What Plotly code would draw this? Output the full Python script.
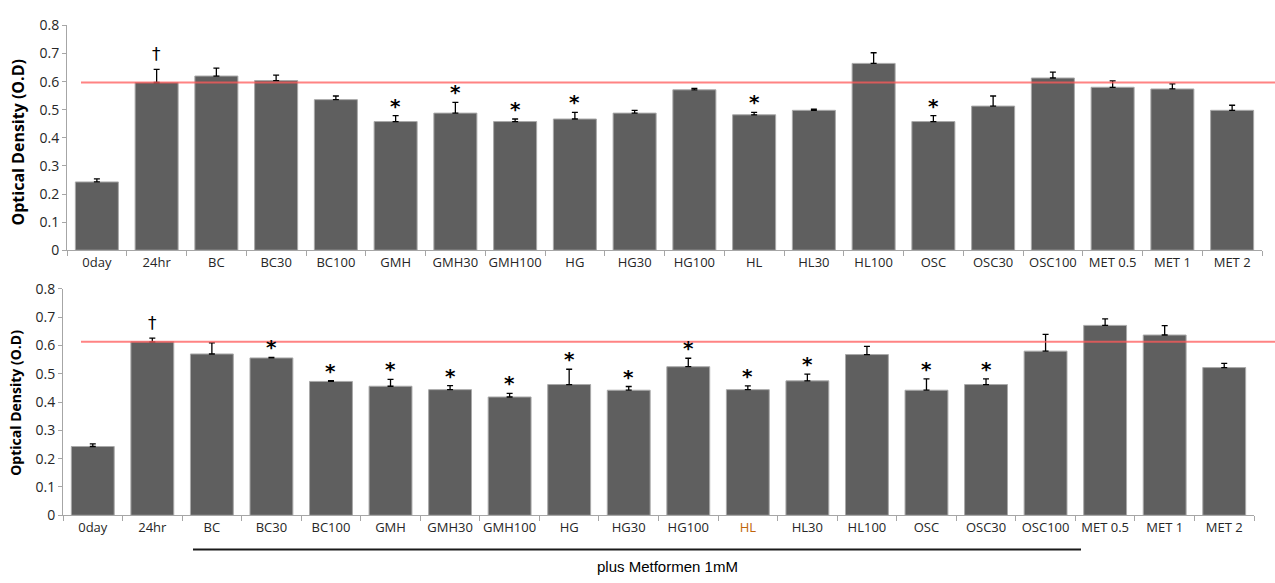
import plotly.graph_objects as go

W, H = 1275, 583

categories = ["0day", "24hr", "BC", "BC30", "BC100", "GMH", "GMH30", "GMH100",
              "HG", "HG30", "HG100", "HL", "HL30", "HL100", "OSC", "OSC30",
              "OSC100", "MET 0.5", "MET 1", "MET 2"]

# Panel A: extracts alone
od_a = [0.243, 0.597, 0.620, 0.604, 0.536, 0.458, 0.488, 0.458, 0.467, 0.488,
        0.571, 0.482, 0.498, 0.665, 0.458, 0.513, 0.613, 0.580, 0.574, 0.498]
err_a = [0.011, 0.047, 0.028, 0.019, 0.013, 0.021, 0.038, 0.009, 0.024, 0.010,
         0.005, 0.009, 0.004, 0.038, 0.021, 0.036, 0.021, 0.023, 0.018, 0.018]
sig_a = ["", "†", "", "", "", "*", "*", "*", "*", "", "", "*", "", "", "*", "",
         "", "", "", ""]

# Panel B: extracts plus metformin 1 mM
od_b = [0.243, 0.613, 0.570, 0.556, 0.473, 0.456, 0.444, 0.418, 0.462, 0.442,
        0.525, 0.444, 0.475, 0.568, 0.442, 0.462, 0.580, 0.671, 0.637, 0.522]
err_b = [0.009, 0.013, 0.039, 0.002, 0.003, 0.024, 0.014, 0.013, 0.054, 0.013,
         0.030, 0.013, 0.024, 0.029, 0.040, 0.020, 0.059, 0.023, 0.033, 0.015]
sig_b = ["", "†", "", "*", "*", "*", "*", "*", "*", "*", "*", "*", "*", "", "*",
         "*", "", "", "", ""]

y_ticks = [0, 0.1, 0.2, 0.3, 0.4, 0.5, 0.6, 0.7, 0.8]
bracket_label = "plus Metformen 1mM"

BAR = "#5f5f5f"
EDGE = "#a9a9a9"
AXIS = "#a6a6a6"
TXT = "#262626"
REF = "rgba(255,90,90,0.75)"
FONT = "Open Sans"


def px_x(v):
    return v / W


def px_y(v):
    return (H - v) / H


fig = go.Figure()

for od, err, xa, ya in [(od_a, err_a, "x", "y"), (od_b, err_b, "x2", "y2")]:
    fig.add_trace(go.Bar(
        x=categories, y=od, xaxis=xa, yaxis=ya,
        marker=dict(color=BAR, line=dict(color=EDGE, width=1)),
        error_y=dict(type="data", array=err, arrayminus=[0] * len(err),
                     symmetric=False, color="black", thickness=1.3, width=3),
        hoverinfo="skip", showlegend=False,
    ))

axis_common = dict(
    type="category", showline=True, linecolor=AXIS, linewidth=1,
    ticks="outside", tickcolor=AXIS, ticklen=5, tickson="boundaries",
    tickangle=0, showgrid=False, zeroline=False, fixedrange=True,
    tickfont=dict(family=FONT, size=13, color=TXT),
)
yaxis_common = dict(
    range=[0, 0.8], tickvals=y_ticks, showline=True, linecolor=AXIS,
    linewidth=1, ticks="outside", tickcolor=AXIS, ticklen=4, showgrid=False,
    zeroline=False, fixedrange=True,
    tickfont=dict(family=FONT, size=14, color=TXT),
)

ticktext_b = [f'<span style="color:#c0650a">{c}</span>' if c == "HL" else c
              for c in categories]

fig.update_layout(
    width=W, height=H,
    margin=dict(l=0, r=0, t=0, b=0),
    paper_bgcolor="white", plot_bgcolor="white",
    bargap=0.28,
    xaxis=dict(domain=[px_x(67), px_x(1262)], anchor="y", **axis_common),
    yaxis=dict(domain=[px_y(248.3), px_y(16)], anchor="x", **yaxis_common),
    xaxis2=dict(domain=[px_x(63), px_x(1254)], anchor="y2",
                tickvals=categories, ticktext=ticktext_b, **axis_common),
    yaxis2=dict(domain=[px_y(522.3), px_y(288.3)], anchor="x2", **yaxis_common),
)

# Reference line at the 24 hr level, running past the plot edge
for od, ya in [(od_a, "y"), (od_b, "y2")]:
    fig.add_shape(type="line", xref="paper", yref=ya,
                  x0=px_x(81), x1=1.0, y0=od[1], y1=od[1],
                  line=dict(color=REF, width=2), layer="above")

# Significance markers above error bars
for od, err, sig, xa, ya in [(od_a, err_a, sig_a, "x", "y"),
                             (od_b, err_b, sig_b, "x2", "y2")]:
    for c, v, e, s in zip(categories, od, err, sig):
        if not s:
            continue
        star = s == "*"
        fig.add_annotation(
            x=c, y=v + e, xref=xa, yref=ya, text=f"<b>{s}</b>" if star else s,
            showarrow=False, xanchor="center", yanchor="bottom",
            yshift=-4 if star else 3,
            font=dict(family="DejaVu Sans", size=20 if star else 17,
                      color="black"),
        )

# Axis titles
fig.add_annotation(xref="paper", yref="paper", x=px_x(18), y=px_y(137),
                   xanchor="center", yanchor="middle",
                   text="<b>Optical Density (O.D)</b>", textangle=-90,
                   showarrow=False,
                   font=dict(family=FONT, size=16, color="black"))
fig.add_annotation(xref="paper", yref="paper", x=px_x(16), y=px_y(406),
                   xanchor="center", yanchor="middle",
                   text="<b>Optical Density (O.D)</b>", textangle=-90,
                   showarrow=False,
                   font=dict(family=FONT, size=14, color="black"))

# Bracket under the metformin-treated groups
fig.add_shape(type="line", xref="paper", yref="paper",
              x0=px_x(193), x1=px_x(1081), y0=px_y(557.7), y1=px_y(557.7),
              line=dict(color="#1a1a1a", width=2))
fig.add_annotation(xref="paper", yref="paper", x=px_x(667), y=px_y(575),
                   xanchor="center", yanchor="middle",
                   text=bracket_label, showarrow=False,
                   font=dict(family="Liberation Sans", size=15, color="black"))

fig.write_html("out.html", config={"displayModeBar": False})
